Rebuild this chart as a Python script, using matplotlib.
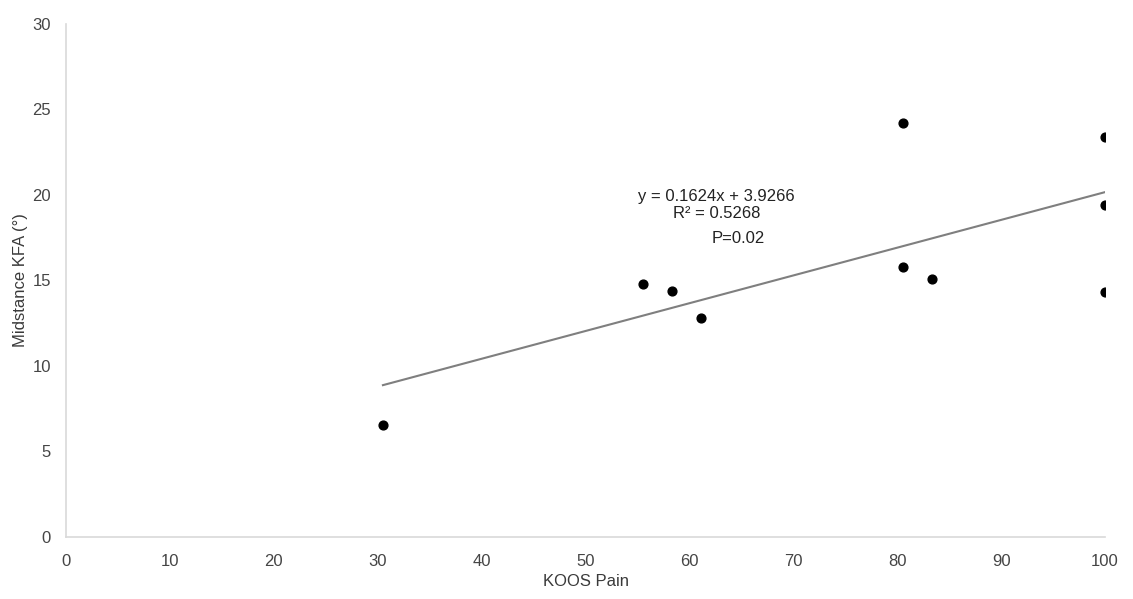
import matplotlib

matplotlib.use("Agg", force=True)

import matplotlib.pyplot as plt  # noqa: E402
import numpy as np  # noqa: E402

plt.rcParams["font.family"] = ["Liberation Sans", "DejaVu Sans"]

# KOOS pain score vs midstance knee flexion angle
koos_pain = [30.5, 55.5, 58.3, 61.1, 80.6, 80.6, 83.3, 100, 100, 100]
kfa = [6.55, 14.8, 14.4, 12.8, 24.2, 15.8, 15.1, 23.4, 19.4, 14.3]

slope = 0.1624
intercept = 3.9266
fit_text = "y = 0.1624x + 3.9266\nR² = 0.5268"
p_text = "P=0.02"

x_ticks = list(range(0, 101, 10))
y_ticks = list(range(0, 31, 5))

fig = plt.figure(figsize=(11.33, 5.99), dpi=100)
ax = fig.add_axes([0.0583, 0.1035, 0.917, 0.8565])

ax.scatter(koos_pain, kfa, s=40, color="black", zorder=3)

# linear trendline over the data range
x_fit = np.array([min(koos_pain), max(koos_pain)])
ax.plot(x_fit, slope * x_fit + intercept, color="#7f7f7f", linewidth=1.5, zorder=2)

ax.text(62.6, 18.5, fit_text, ha="center", va="bottom", fontsize=12,
        color="#222222", linespacing=1.15)
ax.text(64.7, 17.9, p_text, ha="center", va="top", fontsize=12, color="#222222")

ax.set_xlim(0, 100)
ax.set_ylim(0, 30)
ax.set_xticks(x_ticks)
ax.set_yticks(y_ticks)
ax.tick_params(length=0, labelsize=12, labelcolor="#454545")
ax.tick_params(axis="x", pad=12)
ax.tick_params(axis="y", pad=11)

for side in ("top", "right"):
    ax.spines[side].set_visible(False)
for side in ("left", "bottom"):
    ax.spines[side].set_color("#d9d9d9")
    ax.spines[side].set_linewidth(1.2)

ax.set_xlabel("KOOS Pain", fontsize=12, color="#3a3a3a", labelpad=4)
ax.set_ylabel("Midstance KFA (°)", fontsize=12, color="#3a3a3a", labelpad=3)

fig.savefig("out.png", dpi=100)
plt.close(fig)
